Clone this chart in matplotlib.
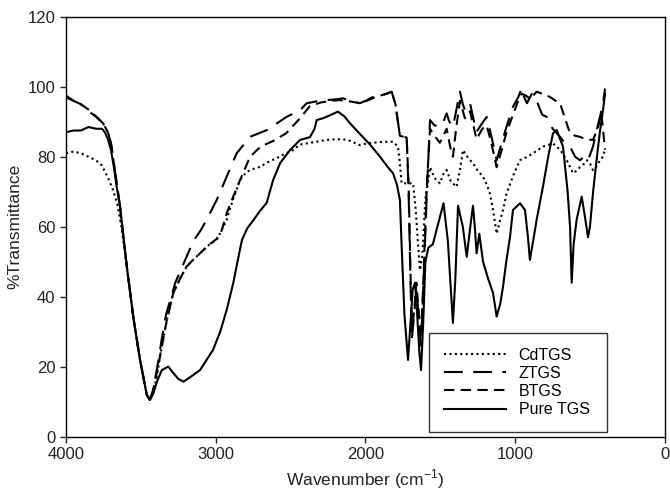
import numpy as np
import matplotlib
matplotlib.use("Agg")
import matplotlib.pyplot as plt

plt.rcParams['font.family'] = ['Liberation Sans', 'DejaVu Sans']

# CdTGS (dotted)
cd_x = [4000, 3950, 3900, 3850, 3800, 3760, 3720, 3690, 3660, 3630, 3595, 3550, 3506, 3461,
        3440, 3420, 3390, 3372, 3328, 3284, 3240, 3195, 3140, 3083, 3040, 2994, 2960, 2927,
        2883, 2838, 2794, 2750, 2705, 2650, 2593, 2540, 2484, 2437, 2393, 2330, 2260, 2200,
        2150, 2100, 2037, 1992, 1950, 1900, 1850, 1816, 1783, 1770, 1759, 1730, 1700, 1682,
        1665, 1649, 1636, 1620, 1600, 1569, 1540, 1503, 1480, 1458, 1430, 1392, 1370, 1349,
        1320, 1282, 1250, 1215, 1190, 1169, 1145, 1124, 1100, 1080, 1058, 1010, 968, 920,
        881, 815, 748, 700, 656, 614, 590, 568, 540, 521, 500, 481, 460, 434, 415, 400]
cd_y = [81, 81.5, 81, 80, 79, 77.5, 74, 71, 67, 60, 49, 34, 22, 12,
        10.5, 12, 18, 23, 33, 41, 45, 48.6, 51, 53.3, 55, 56.2, 59, 62,
        68, 73.3, 75.7, 76.5, 77.1, 78.5, 79.6, 80.8, 81.9, 83.5, 83.8, 84.3, 84.8, 85,
        85, 84.5, 83.3, 83.8, 84, 84.2, 84.3, 84.3, 82.9, 78, 72.4, 72.4, 72.4, 72.4,
        65, 55, 47.6, 52, 68, 77, 74, 72.4, 75, 76.2, 73, 71.4, 76, 81.9,
        80, 78.1, 76, 74.3, 72, 69.5, 64, 58, 62, 65, 69.5, 75, 79, 80,
        81, 82.9, 83.8, 82, 79, 75.3, 76, 77, 78, 79, 78, 76.2, 77, 79, 80, 82]

# ZTGS (long dash)
z_x = [4000, 3950, 3900, 3850, 3800, 3753, 3720, 3700, 3660, 3640, 3595, 3550, 3506, 3461,
       3440, 3420, 3390, 3360, 3330, 3270, 3195, 3148, 3100, 3061, 2994, 2930, 2860, 2771,
       2660, 2527, 2437, 2393, 2330, 2260, 2200, 2150, 2100, 2037, 1990, 1950, 1900, 1860,
       1825, 1800, 1780, 1770, 1745, 1725, 1712, 1700, 1690, 1675, 1660, 1645, 1630, 1616,
       1590, 1569, 1540, 1503, 1480, 1458, 1440, 1416, 1395, 1369, 1350, 1336, 1320, 1302,
       1280, 1258, 1230, 1191, 1160, 1124, 1090, 1058, 1015, 980, 957, 940, 922, 889, 857,
       820, 790, 750, 701, 670, 634, 600, 568, 540, 514, 480, 460, 434, 415, 400]
z_y = [97, 96, 95, 93, 91.5, 89.6, 87, 84, 72, 66, 49, 34, 22, 12,
       10.5, 13, 20, 28, 35.2, 44, 51.4, 56, 59, 62, 67.6, 74, 81, 85.7,
       87.6, 91.4, 93.3, 95.3, 95.8, 96.2, 96.4, 96.7, 96, 95.3, 96.2, 97.1, 97.5, 98,
       98.6, 95, 89, 86, 85.7, 85.5, 70, 45, 28, 35, 42, 35, 26, 40,
       70, 90.5, 89, 88.6, 90, 92.4, 90, 88.6, 93, 98.6, 95, 93.3, 94, 95.3,
       91, 87.1, 89, 91.4, 86, 79, 84, 88.6, 94.3, 97, 99.5, 97, 95.3, 98, 96,
       92, 91.4, 88, 85.7, 84, 82.9, 80, 79, 80, 79, 83, 87, 91.4, 95, 99.5]

# BTGS (short dash)
b_x = [4000, 3950, 3900, 3850, 3800, 3753, 3720, 3700, 3660, 3640, 3595, 3550, 3506, 3461,
       3440, 3420, 3390, 3372, 3328, 3284, 3240, 3195, 3140, 3083, 3040, 2994, 2960, 2927,
       2883, 2838, 2771, 2700, 2617, 2530, 2437, 2371, 2300, 2230, 2170, 2100, 2037, 1990,
       1950, 1900, 1860, 1825, 1800, 1780, 1770, 1745, 1725, 1712, 1700, 1690, 1675, 1660,
       1645, 1630, 1616, 1590, 1569, 1540, 1503, 1480, 1458, 1430, 1416, 1395, 1369, 1336,
       1302, 1280, 1258, 1220, 1191, 1160, 1124, 1090, 1058, 1015, 980, 957, 930, 900, 857,
       820, 768, 730, 701, 660, 634, 600, 568, 530, 481, 450, 425, 414, 405, 400]
b_y = [97.5, 96, 95, 93.5, 91.5, 89.6, 87, 84, 72, 66, 49, 34, 22, 12,
       10.5, 13, 19, 23, 33, 41, 45, 48.6, 51, 53.3, 55, 56.5, 59, 63.8,
       68.6, 73.3, 80, 82.9, 84.5, 86.7, 91, 94.5, 95.5, 96, 96.2, 95.8, 95.3, 96,
       96.8, 97.5, 98, 98.6, 95, 89, 86, 85.7, 85.5, 72, 48, 30, 36, 44,
       36, 28, 42, 72, 88, 86, 84, 86, 88, 82, 80, 88, 96, 91,
       93, 89, 85, 88, 89, 84, 77, 82, 87, 92, 96, 98, 97.5, 96.5, 98.6,
       98, 97.1, 96, 95.3, 90, 86.7, 86, 85.7, 85, 84.8, 88, 92.4, 88, 84, 82]

# Pure TGS (solid)
p_x = [4000, 3950, 3900, 3850, 3800, 3760, 3740, 3720, 3700, 3680, 3660, 3640, 3595, 3550,
       3506, 3461, 3440, 3420, 3390, 3360, 3317, 3280, 3250, 3215, 3170, 3105, 3060, 3018,
       2970, 2927, 2883, 2850, 2825, 2790, 2748, 2705, 2660, 2617, 2570, 2504, 2437, 2371,
       2340, 2326, 2284, 2240, 2184, 2140, 2104, 2037, 1970, 1903, 1850, 1816, 1790, 1770,
       1759, 1740, 1716, 1700, 1685, 1669, 1655, 1640, 1629, 1615, 1600, 1580, 1550, 1520,
       1479, 1450, 1430, 1416, 1400, 1382, 1350, 1324, 1300, 1282, 1270, 1258, 1240, 1215,
       1180, 1148, 1124, 1100, 1082, 1060, 1035, 1015, 968, 935, 915, 902, 880, 857, 815,
       780, 748, 723, 700, 681, 650, 634, 623, 610, 590, 556, 535, 514, 501, 480, 457, 435,
       414, 400]
p_y = [87, 87.5, 87.5, 88.5, 88, 88, 87, 85, 82, 77, 71, 66, 49, 34,
       22, 12, 10.5, 12, 16, 19, 20, 18, 16.5, 15.7, 17, 19, 22, 24.8,
       30, 36.2, 43.9, 51, 56.2, 59.5, 61.9, 64.5, 66.8, 73.3, 78.2, 81.9, 84.8, 85.6,
       88, 90.5, 91, 91.8, 92.9, 91.5, 89.6, 86.5, 83.5, 80, 77, 75.3, 72, 67.6,
       55, 35, 21.9, 32, 42, 44, 35, 24, 19, 32, 50, 54, 55, 60,
       66.7, 56, 42, 32.5, 45, 66, 60, 51.4, 60, 66, 60, 52.4, 58, 50,
       45, 41, 34.3, 38, 42.7, 50, 57, 64.8, 66.7, 64.8, 57, 50.5, 56, 62, 71.4,
       80, 86.7, 87.6, 85, 82.9, 70, 60, 44, 55, 62, 68.6, 63, 57, 60, 70, 79, 87,
       93.3, 98]

series = [
    ("CdTGS", cd_x, cd_y, (0, (1, 1.6))),
    ("ZTGS", z_x, z_y, (0, (9, 5))),
    ("BTGS", b_x, b_y, (0, (5, 3))),
    ("Pure TGS", p_x, p_y, "-"),
]

fig = plt.figure(figsize=(6.7, 4.95), dpi=100)
ax = fig.add_axes([0.0985, 0.118, 0.894, 0.848])

for name, xs, ys, ls in series:
    ax.plot(xs, ys, color="black", lw=1.5, linestyle=ls, label=name)

ax.set_xlim(4000, 0)
ax.set_ylim(0, 120)
ax.set_xticks(np.arange(4000, -1, -1000))
ax.set_yticks(np.arange(0, 121, 20))
ax.tick_params(direction="out", length=4, width=1, labelsize=12, colors="#222222")
for sp in ax.spines.values():
    sp.set_linewidth(1)
ax.set_xlabel("Wavenumber (cm$^{\\mathregular{-1}}$)", fontsize=12.5, color="#222222")
ax.set_ylabel("%Transmittance", fontsize=12.5, color="#222222")

leg = ax.legend(loc="lower left", bbox_to_anchor=(0.6065, 0.012, 0.296, 0.237),
                mode="expand", borderaxespad=0, fontsize=11.5, handlelength=3.9,
                frameon=True, fancybox=False, edgecolor="black", borderpad=0.9,
                labelspacing=0.2, handletextpad=0.8)
leg.get_frame().set_linewidth(1)

fig.savefig("out.png", dpi=100)
